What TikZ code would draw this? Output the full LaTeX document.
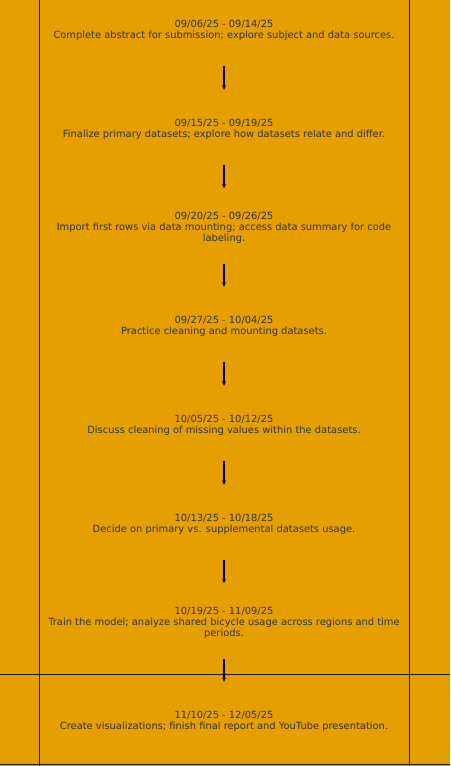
\documentclass[tikz,border=0pt]{standalone}
\usepackage{fontspec}
\setmainfont{DejaVu Sans}
\usetikzlibrary{arrows.meta}
\definecolor{bgorange}{HTML}{E69F00}
\definecolor{txtgray}{HTML}{333333}
\begin{document}
\begin{tikzpicture}[x=1pt,y=1pt,
  blk/.style={text=txtgray, align=center, minimum height=75pt, inner sep=0pt,
    font=\fontsize{9.9}{11}\selectfont},
  flow/.style={-{Stealth[length=4.5pt,width=4pt]}, line width=1.4pt, black},
  rule/.style={line width=1pt, black!90}]
\fill[bgorange] (0,0) rectangle (450,766);
\useasboundingbox (0,0) rectangle (450,766);
\draw[rule] (39,0) -- (39,766);
\draw[rule] (409,0) -- (409,766);
\draw[rule] (0,91) -- (450,91);
\draw[rule] (0,1) -- (450,1);
\node[blk] (b1) at (224,766-28.5) {};
\node[blk] (b2) at (224,766-127.5) {};
\node[blk] (b3) at (224,766-226) {};
\node[blk] (b4) at (224,766-324.5) {};
\node[blk] (b5) at (224,766-423.5) {};
\node[blk] (b6) at (224,766-522.5) {};
\node[blk] (b7) at (224,766-621) {};
\node[blk] (b8) at (224,766-719.5) {};
\node[blk] (t1) at ([yshift=-1.5pt]b1.center) {09/06/25 - 09/14/25\\Complete abstract for submission; explore subject and data sources.};
\node[blk] (t2) at ([yshift=-1.5pt]b2.center) {09/15/25 - 09/19/25\\Finalize primary datasets; explore how datasets relate and differ.};
\node[blk] (t3) at ([yshift=-1.5pt]b3.center) {09/20/25 - 09/26/25\\Import first rows via data mounting; access data summary for code\\labeling.};
\node[blk] (t4) at ([yshift=-1.5pt]b4.center) {09/27/25 - 10/04/25\\Practice cleaning and mounting datasets.};
\node[blk] (t5) at ([yshift=-1.5pt]b5.center) {10/05/25 - 10/12/25\\Discuss cleaning of missing values within the datasets.};
\node[blk] (t6) at ([yshift=-1.5pt]b6.center) {10/13/25 - 10/18/25\\Decide on primary vs. supplemental datasets usage.};
\node[blk] (t7) at ([yshift=-1.5pt]b7.center) {10/19/25 - 11/09/25\\Train the model; analyze shared bicycle usage across regions and time\\periods.};
\node[blk] (t8) at ([yshift=-1.5pt]b8.center) {11/10/25 - 12/05/25\\Create visualizations; finish final report and YouTube presentation.};
\foreach \a/\b in {b1/b2,b2/b3,b3/b4,b4/b5,b5/b6,b6/b7,b7/b8}
  \draw[flow] (\a.south) -- (\b.north);
\end{tikzpicture}
\end{document}
